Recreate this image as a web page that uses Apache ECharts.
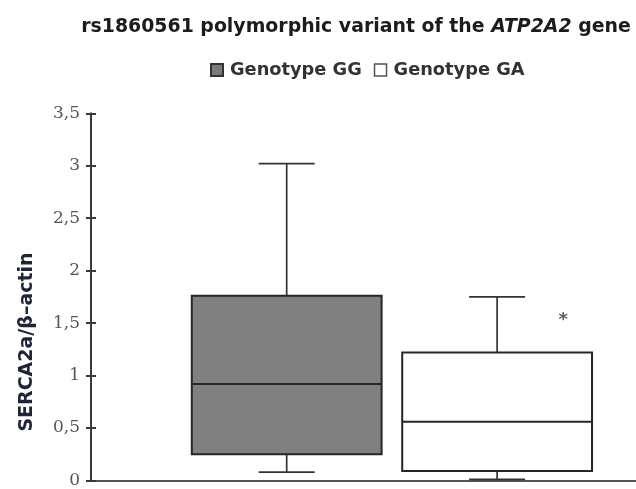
<!DOCTYPE html>
<html>
<head>
<meta charset="utf-8">
<script src="https://cdn.jsdelivr.net/npm/echarts@6/dist/echarts.min.js"></script>
<style>
  html, body { margin: 0; padding: 0; background: #fff; }
  #chart { width: 636px; height: 489px; }
</style>
</head>
<body>
<div id="chart"></div>
<script>
// Genotype groups, in plotting order
const genotypes = ['Genotype GG', 'Genotype GA'];
// Five-number summaries per genotype: [min, Q1, median, Q3, max]
const ggStats = [0.08, 0.25, 0.92, 1.76, 3.02];
const gaStats = [0.01, 0.09, 0.56, 1.22, 1.75];
// Extreme values flagged for the GA group
const gaOutliers = [1.54];
// Y axis tick labels (decimal comma), from 0 to 3.5 in steps of 0.5
const yTickLabels = ['0', '0,5', '1', '1,5', '2', '2,5', '3', '3,5'];

const Y_STEP = 0.5;
const BOX_HALF = 0.451;   // half box width, in x-axis units
const CAP_HALF = 0.133;   // half whisker-cap width, in x-axis units

function boxRenderer(fill) {
  return function (params, api) {
    const x = api.value(0);
    const lo = api.coord([x, api.value(1)]);
    const q1 = api.coord([x, api.value(2)]);
    const med = api.coord([x, api.value(3)]);
    const q3 = api.coord([x, api.value(4)]);
    const hi = api.coord([x, api.value(5)]);
    const hb = api.size([BOX_HALF, 0])[0];
    const hc = api.size([CAP_HALF, 0])[0];
    const cx = q1[0];
    const whisker = { stroke: '#333333', lineWidth: 1.7 };
    return {
      type: 'group',
      children: [
        { type: 'line', shape: { x1: cx, y1: hi[1], x2: cx, y2: q3[1] }, style: whisker },
        { type: 'line', shape: { x1: cx, y1: q1[1], x2: cx, y2: lo[1] }, style: whisker },
        { type: 'line', shape: { x1: cx - hc, y1: hi[1], x2: cx + hc, y2: hi[1] }, style: whisker },
        { type: 'line', shape: { x1: cx - hc, y1: lo[1], x2: cx + hc, y2: lo[1] }, style: whisker },
        {
          type: 'rect',
          shape: { x: cx - hb, y: q3[1], width: 2 * hb, height: q1[1] - q3[1] },
          style: { fill: fill, stroke: '#262626', lineWidth: 2 }
        },
        { type: 'line', shape: { x1: cx - hb, y1: med[1], x2: cx + hb, y2: med[1] }, style: { stroke: '#262626', lineWidth: 2 } }
      ]
    };
  };
}

const chart = echarts.init(document.getElementById('chart'), null, { renderer: 'canvas' });

const yBase = {
  type: 'value',
  min: 0,
  max: 3.5,
  interval: Y_STEP,
  position: 'left',
  offset: 0,
  splitLine: { show: false }
};

chart.setOption({
  backgroundColor: '#ffffff',
  animation: false,
  title: {
    text: '{b|rs1860561 polymorphic variant of the }{i|ATP2A2}{b| gene}',
    left: 356,
    textAlign: 'center',
    top: 18,
    padding: 0,
    textStyle: {
      rich: {
        b: { fontFamily: 'DejaVu Sans', fontWeight: 'bold', fontSize: 18.9, color: '#1c1c1c' },
        i: { fontFamily: 'DejaVu Sans', fontWeight: 'bold', fontStyle: 'italic', fontSize: 18.9, color: '#1c1c1c' }
      }
    }
  },
  legend: {
    top: 61,
    left: 210,
    padding: 0,
    itemWidth: 12,
    itemHeight: 12,
    itemGap: 12,
    icon: 'rect',
    textStyle: { fontFamily: 'DejaVu Sans', fontWeight: 'bold', fontSize: 17.8, color: '#333333', padding: [0, 0, 0, 2] },
    data: [
      { name: genotypes[0], itemStyle: { color: '#7a7a7a', borderColor: '#333333', borderWidth: 2 } },
      { name: genotypes[1], itemStyle: { color: '#ffffff', borderColor: '#555555', borderWidth: 1.5 } }
    ]
  },
  grid: { left: 91, right: 0, top: 113.3, bottom: 7.3, containLabel: false },
  xAxis: {
    type: 'value',
    min: -0.93,
    max: 1.66,
    axisLine: { show: true, onZero: false, lineStyle: { color: '#555555', width: 2 } },
    axisTick: { show: false },
    axisLabel: { show: false },
    splitLine: { show: false }
  },
  yAxis: [
    Object.assign({}, yBase, {
      axisLine: { show: true, onZero: false, lineStyle: { color: '#3a3a3a', width: 2 } },
      axisTick: { show: true, length: 5, lineStyle: { color: '#3a3a3a', width: 2 } },
      axisLabel: {
        show: true,
        margin: 11,
        fontFamily: 'DejaVu Serif',
        fontSize: 17,
        color: '#555555',
        formatter: function (v) { return yTickLabels[Math.round(v / Y_STEP)]; }
      }
    }),
    Object.assign({}, yBase, {
      axisLine: { show: false, onZero: false },
      axisTick: { show: true, inside: true, length: 5, lineStyle: { color: '#3a3a3a', width: 2 } },
      axisLabel: { show: false }
    })
  ],
  graphic: [{
    type: 'text',
    x: 27,
    y: 342,
    rotation: Math.PI / 2,
    style: {
      text: 'SERCA2a/\u03b2\u2013actin',
      fontFamily: 'DejaVu Sans',
      fontWeight: 'bold',
      fontSize: 19,
      fill: '#1f2533',
      align: 'center',
      verticalAlign: 'middle'
    }
  }],
  series: [
    {
      name: genotypes[0],
      type: 'custom',
      renderItem: boxRenderer('#808080'),
      encode: { x: 0, y: [1, 2, 3, 4, 5] },
      itemStyle: { color: '#7a7a7a' },
      data: [[0].concat(ggStats)],
      z: 3
    },
    {
      name: genotypes[1],
      type: 'custom',
      renderItem: boxRenderer('#ffffff'),
      encode: { x: 0, y: [1, 2, 3, 4, 5] },
      itemStyle: { color: '#ffffff' },
      data: [[1].concat(gaStats)],
      z: 3
    },
    {
      name: 'GA extremes',
      type: 'scatter',
      symbol: 'circle',
      symbolSize: 1,
      symbolOffset: [66, 0],
      itemStyle: { color: 'rgba(0,0,0,0)' },
      label: {
        show: true,
        formatter: '*',
        position: 'inside',
        offset: [0, 1],
        fontFamily: 'DejaVu Sans',
        fontWeight: 'bold',
        fontSize: 18,
        color: '#333333'
      },
      data: gaOutliers.map(function (v) { return [1, v]; }),
      z: 4
    }
  ]
});
</script>
</body>
</html>
